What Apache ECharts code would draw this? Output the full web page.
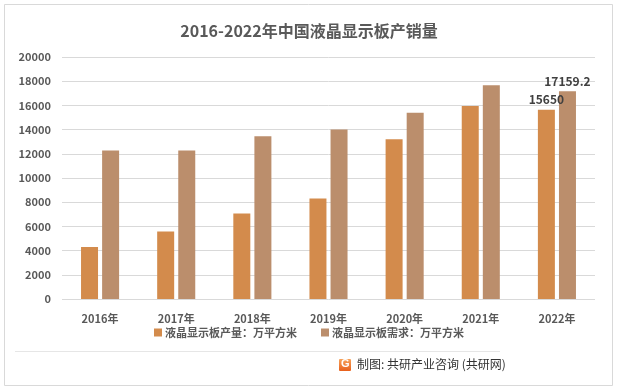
<!DOCTYPE html>
<html>
<head>
<meta charset="utf-8">
<script src="https://cdn.jsdelivr.net/npm/echarts@6/dist/echarts.min.js"></script>
<style>
html,body{margin:0;padding:0;background:#fff;}
#c{width:618px;height:391px;}
</style>
</head>
<body>
<div id="c"></div>
<script>
var categories = ['2016年','2017年','2018年','2019年','2020年','2021年','2022年'];
var production = [4300, 5570, 7060, 8300, 13200, 15950, 15650];
var demand = [12280, 12280, 13450, 14000, 15400, 17670, 17159.2];
var seriesNames = ['液晶显示板产量：万平方米', '液晶显示板需求：万平方米'];
var yTicks = {min: 0, max: 20000, interval: 2000};
var labeledIndex = 6;

var font = '"Microsoft YaHei","Noto Sans CJK SC",sans-serif';
var chart = echarts.init(document.getElementById('c'), null, {renderer: 'canvas'});

function labelFor(i) {
  return {show: i === labeledIndex, position: 'top', distance: 4, color: '#404040', fontSize: 12, fontWeight: 'bold', fontFamily: font};
}

chart.setOption({
  animation: false,
  backgroundColor: '#fff',
  title: {
    text: '2016-2022年中国液晶显示板产销量',
    left: 'center', top: 18,
    textStyle: {color: '#595959', fontSize: 16, fontWeight: 'bold', fontFamily: font}
  },
  grid: {left: 62, right: 23, top: 57, bottom: 92, containLabel: false},
  legend: {
    data: seriesNames,
    top: 322, left: 'center',
    itemWidth: 8, itemHeight: 8, itemGap: 24,
    icon: 'rect',
    textStyle: {color: '#595959', fontSize: 11, fontWeight: 'bold', fontFamily: font, padding: [0,0,0,-2]}
  },
  xAxis: {
    type: 'category', data: categories,
    axisLine: {show: false}, axisTick: {show: false},
    axisLabel: {color: '#595959', fontSize: 11, fontWeight: 'bold', fontFamily: font, margin: 14}
  },
  yAxis: {
    type: 'value', min: yTicks.min, max: yTicks.max, interval: yTicks.interval,
    axisLine: {show: false}, axisTick: {show: false},
    axisLabel: {color: '#595959', fontSize: 11, fontWeight: 'bold', fontFamily: font, margin: 11,
      formatter: function(v){ return String(v); }},
    splitLine: {lineStyle: {color: '#d9d9d9', width: 1}}
  },
  series: [
    {
      name: seriesNames[0], type: 'bar', barWidth: 17, barGap: '24%',
      itemStyle: {color: '#D38B4C'},
      data: production.map(function(v, i){ return {value: v, label: labelFor(i)}; })
    },
    {
      name: seriesNames[1], type: 'bar', barWidth: 17, barGap: '24%',
      itemStyle: {color: '#BB8E6C'},
      data: demand.map(function(v, i){ return {value: v, label: labelFor(i)}; })
    }
  ],
  graphic: [
    {type: 'rect', shape: {x: 4.5, y: 4.5, width: 608, height: 381}, style: {fill: 'none', stroke: '#d9d9d9', lineWidth: 1}, silent: true, z: -1},
    {type: 'line', shape: {x1: 15, y1: 351.5, x2: 500, y2: 351.5}, style: {stroke: '#e6e6e6', lineWidth: 1}},
    {type: 'rect', shape: {x: 339, y: 359, width: 12, height: 12, r: 1}, style: {fill: new echarts.graphic.LinearGradient(0,0,0,1,[{offset:0,color:'#F7A35C'},{offset:1,color:'#E8601C'}])}},
    {type: 'text', left: 341, top: 358, style: {text: 'G', fill: '#fff', font: 'bold 11px sans-serif'}},
    {type: 'text', left: 357, top: 358, style: {text: '制图: 共研产业咨询 (共研网)', fill: '#333', font: '12px ' + font}}
  ]
});
</script>
</body>
</html>
